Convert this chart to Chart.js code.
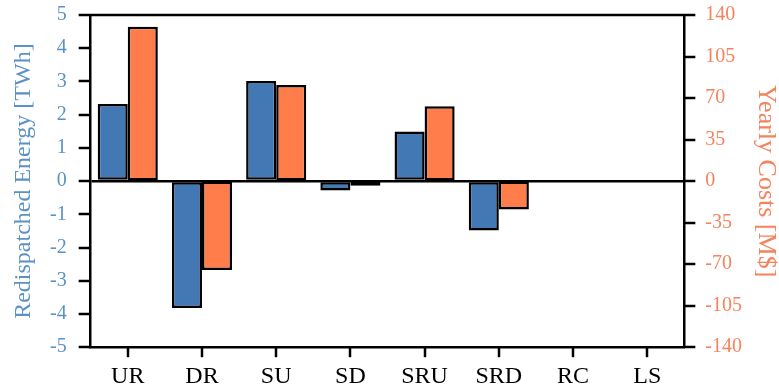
<!DOCTYPE html>
<html>
<head>
<meta charset="utf-8">
<script src="https://cdn.jsdelivr.net/npm/chart.js@4"></script>
<style>
  body { margin: 0; background: #fff; }
  #wrap { width: 779px; height: 392px; }
</style>
</head>
<body>
<div id="wrap"><canvas id="myChart" width="779" height="392"></canvas></div>
<script>
var categories = ["UR", "DR", "SU", "SD", "SRU", "SRD", "RC", "LS"];
var energy = [2.32, -3.82, 3.01, -0.28, 1.49, -1.49, 0, 0];      // TWh
var costs = [130, -75, 81, -4, 63, -24, 0, 0];                   // M$

var blue = "#4279b4";
var orange = "#ff7d4a";
var blueText = "#5b92c6";
var orangeText = "#f5835d";
var serif = "Liberation Serif";

// top frame line + outward tick marks at the scales' own tick positions
var tickMarks = {
    id: "tickMarks",
    afterDraw(chart) {
        const c = chart.ctx;
        const a = chart.chartArea;
        c.save();
        c.strokeStyle = "#000";
        c.lineWidth = 2.5;
        c.beginPath();
        c.moveTo(a.left, a.top);
        c.lineTo(a.right, a.top);
        c.stroke();
        const x = chart.scales.x;
        for (let i = 0; i < x.ticks.length; i++) {
            const px = Math.round(x.getPixelForTick(i));
            c.beginPath();
            c.moveTo(px, a.bottom);
            c.lineTo(px, a.bottom + 10);
            c.stroke();
        }
        const y = chart.scales.y;
        for (let i = 0; i < y.ticks.length; i++) {
            const py = Math.round(y.getPixelForTick(i));
            c.beginPath();
            c.moveTo(a.left, py);
            c.lineTo(a.left - 12, py);
            c.stroke();
        }
        const y1 = chart.scales.y1;
        for (let i = 0; i < y1.ticks.length; i++) {
            const py = Math.round(y1.getPixelForTick(i));
            c.beginPath();
            c.moveTo(a.right, py);
            c.lineTo(a.right + 11, py);
            c.stroke();
        }
        c.restore();
    },
};

const ctx = document.getElementById("myChart").getContext("2d");

var myjson = {
    type: "bar",
    data: {
        labels: categories,
        datasets: [{
            label: "Redispatched Energy",
            data: energy,
            yAxisID: "y",
            backgroundColor: blue,
            borderColor: "#000",
            borderWidth: 2.5,
            borderSkipped: false,
        }, {
            label: "Yearly Costs",
            data: costs,
            yAxisID: "y1",
            backgroundColor: orange,
            borderColor: "#000",
            borderWidth: 2.5,
            borderSkipped: false,
        }],
    },
    options: {
        responsive: false,
        animation: false,
        layout: { padding: { top: 15, right: 0, left: 12, bottom: -14 } },
        datasets: { bar: { categoryPercentage: 0.81, barPercentage: 1.0 } },
        plugins: { legend: { display: false }, tooltip: { enabled: false } },
        scales: {
            x: {
                offset: true,
                grid: { display: false, drawTicks: false },
                border: { color: "#000", width: 2.5 },
                ticks: { color: "#000", font: { family: serif, size: 24, lineHeight: 1.2 }, padding: 15 },
            },
            y: {
                position: "left",
                min: -5,
                max: 5,
                ticks: { stepSize: 1, color: blueText, font: { family: serif, size: 20, lineHeight: 1 }, padding: 0 },
                grid: {
                    drawOnChartArea: true,
                    tickLength: 24,
                    tickColor: "rgba(0,0,0,0)",
                    color: (c) => (c.tick && c.tick.value === 0 ? "#000" : "rgba(0,0,0,0)"),
                    lineWidth: (c) => (c.tick && c.tick.value === 0 ? 2.5 : 0),
                },
                border: { color: "#000", width: 2.5 },
                title: {
                    display: true, text: "Redispatched Energy [TWh]", color: blueText,
                    font: { family: serif, size: 24, lineHeight: 1 }, padding: { top: 0, bottom: 14 },
                },
            },
            y1: {
                position: "right",
                min: -140,
                max: 140,
                ticks: { stepSize: 35, color: orangeText, font: { family: serif, size: 20, lineHeight: 1 }, padding: 0 },
                grid: { drawOnChartArea: false, tickLength: 21, tickColor: "rgba(0,0,0,0)" },
                border: { color: "#000", width: 2.5 },
                title: {
                    display: true, text: "Yearly Costs [M$]", color: orangeText,
                    font: { family: serif, size: 26, lineHeight: 1 }, padding: { top: 0, bottom: 11 },
                },
            },
        },
    },
    plugins: [tickMarks],
};

const myChart = new Chart(ctx, myjson);
</script>
</body>
</html>
